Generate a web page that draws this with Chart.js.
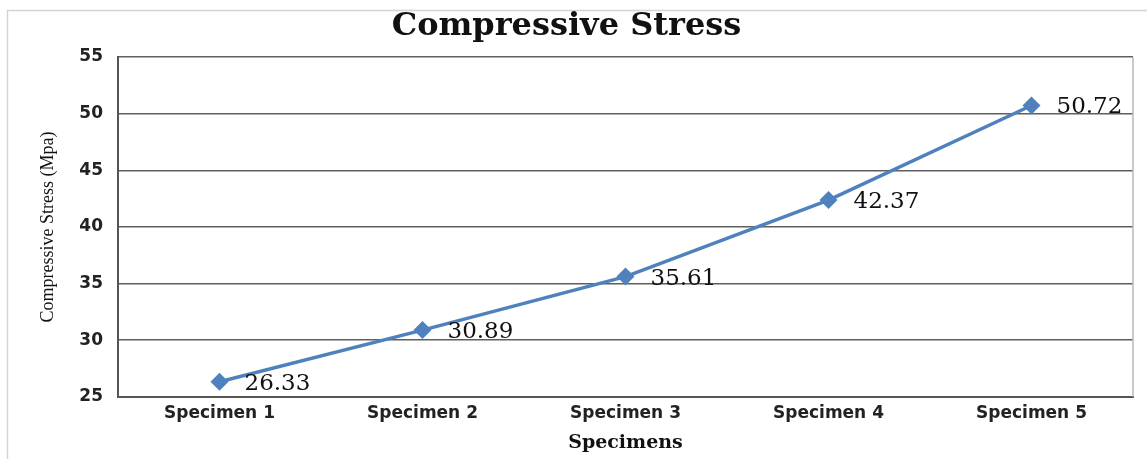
<!DOCTYPE html>
<html>
<head>
<meta charset="utf-8">
<script src="https://cdn.jsdelivr.net/npm/chart.js@4/dist/chart.umd.min.js"></script>
<style>
  html, body { margin: 0; padding: 0; background: #fff; }
  #wrap { position: relative; width: 1147px; height: 459px; }
</style>
</head>
<body>
<div id="wrap"><canvas id="c" width="1147" height="459"></canvas></div>
<script>
const categories = ['Specimen 1', 'Specimen 2', 'Specimen 3', 'Specimen 4', 'Specimen 5'];
const stressValues = [26.33, 30.89, 35.61, 42.37, 50.72];
const yTicks = [25, 30, 35, 40, 45, 50, 55];

const framePlugin = {
  id: 'frame',
  beforeDraw(chart) {
    const ctx = chart.ctx;
    ctx.save();
    ctx.fillStyle = '#fff';
    ctx.fillRect(0, 0, chart.width, chart.height);
    ctx.strokeStyle = '#d4d4d4';
    ctx.lineWidth = 1.5;
    ctx.strokeRect(7.5, 10.5, chart.width + 20, chart.height + 20);
    ctx.restore();
  },
  afterDraw(chart) {
    const a = chart.chartArea;
    const ctx = chart.ctx;
    ctx.save();
    ctx.strokeStyle = '#b8b8b8';
    ctx.lineWidth = 1.5;
    ctx.beginPath();
    ctx.moveTo(a.right, a.top);
    ctx.lineTo(a.right, a.bottom);
    ctx.stroke();
    ctx.restore();
  }
};

const labelPlugin = {
  id: 'valueLabels',
  afterDatasetsDraw(chart) {
    const ctx = chart.ctx;
    const meta = chart.getDatasetMeta(0);
    const data = chart.data.datasets[0].data;
    ctx.save();
    ctx.font = '23px "DejaVu Serif"';
    ctx.fillStyle = '#111';
    ctx.textAlign = 'left';
    ctx.textBaseline = 'middle';
    meta.data.forEach((pt, i) => {
      ctx.fillText(data[i].toFixed(2), pt.x + 25, pt.y + 2);
    });
    ctx.restore();
  }
};

new Chart(document.getElementById('c'), {
  type: 'line',
  data: {
    labels: categories,
    datasets: [{
      label: 'Compressive Stress',
      data: stressValues,
      borderColor: '#4F81BD',
      backgroundColor: '#4F81BD',
      borderWidth: 3.5,
      pointStyle: 'rectRot',
      pointRadius: 9,
      pointBorderWidth: 0,
      pointBackgroundColor: '#4F81BD',
      tension: 0,
      fill: false
    }]
  },
  options: {
    responsive: false,
    animation: false,
    devicePixelRatio: 1,
    layout: { padding: { left: 0, right: 14, top: 0, bottom: 0 } },
    plugins: {
      legend: { display: false },
      tooltip: { enabled: false },
      title: {
        display: true,
        text: 'Compressive Stress',
        color: '#111',
        font: { family: '"DejaVu Serif"', size: 32, weight: 'bold', lineHeight: 1.2 },
        padding: { top: 7, bottom: 11.6 }
      }
    },
    scales: {
      x: {
        type: 'category',
        offset: true,
        grid: { display: false, drawTicks: false },
        border: { display: true, color: '#555', width: 2 },
        ticks: {
          color: '#222',
          padding: 7,
          maxRotation: 0,
          font: { family: '"DejaVu Sans"', size: 17, weight: 'bold', lineHeight: 1.2 }
        },
        title: {
          display: true,
          text: 'Specimens',
          color: '#111',
          font: { family: '"DejaVu Serif"', size: 19, weight: 'bold', lineHeight: 1.2 },
          padding: { top: 0, bottom: 5 }
        }
      },
      y: {
        min: 25,
        max: 55,
        afterBuildTicks(scale) { scale.ticks = yTicks.map(v => ({ value: v })); },
        afterFit(scale) { scale.width = 118; },
        grid: { color: '#5f5f5f', lineWidth: 1.5, drawTicks: false },
        border: { display: true, color: '#555', width: 2 },
        ticks: {
          color: '#222',
          padding: 15,
          font: { family: '"DejaVu Sans"', size: 17, weight: 'bold', lineHeight: 1.2 }
        },
        title: {
          display: true,
          text: 'Compressive Stress (Mpa)',
          color: '#111',
          font: { family: '"Liberation Serif"', size: 18, lineHeight: 1.2 },
          padding: { top: 37, bottom: 0 }
        }
      }
    }
  },
  plugins: [framePlugin, labelPlugin]
});
</script>
</body>
</html>
